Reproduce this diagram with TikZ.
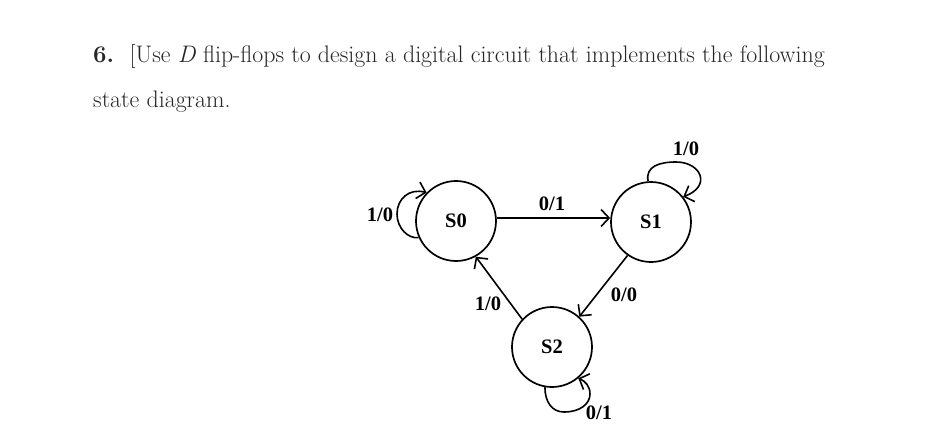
\documentclass[tikz,border=0pt]{standalone}
\usepackage{fontspec}
\newfontfamily\lblfont{Liberation Serif}
\usetikzlibrary{arrows.meta}
\begin{document}
\begin{tikzpicture}[x=1pt,y=-1pt,
  state/.style={draw,circle,line width=1.7pt,minimum size=80pt,inner sep=0pt,font=\lblfont\bfseries\fontsize{20.5}{20.5}\selectfont},
  lbl/.style={font=\lblfont\bfseries\fontsize{20.5}{20.5}\selectfont,inner sep=0pt},
  edge/.style={line width=1.6pt,-{Straight Barb[length=8pt,width=17pt,line width=1.6pt]}},
  body/.style={anchor=base west,inner sep=0pt,text=black!85,font=\fontsize{23.9}{28}\selectfont}]
\useasboundingbox (0,0) rectangle (943,447);
\node[body] (l1) at (93,62) {\textbf{6.}\hspace{15.6pt}[Use \textit{D} flip-flops to design a digital circuit that implements the following};
\node[body] (l2) at (93,107) {state diagram.};
\node[state] (s0) at (456,221) {S0};
\node[state] (s1) at (651,222) {S1};
\node[state] (s2) at (552,347) {S2};
\draw[edge] (s0.east |- 0,218) -- (s1.west |- 0,218);
\draw[edge] (s1.235) -- (s2.48);
\draw[edge] (s2.137) -- (s0.299);
\draw[edge] (s0.204) .. controls (408,239) and (397,228) .. (397,214)
  .. controls (397,199) and (409,188) .. (s0.136);
\draw[edge] (s1.94) .. controls (645,166) and (660,162) .. (676,162)
  .. controls (701,162) and (712,186) .. (s1.38);
\draw[edge] (s2.260) .. controls (545,402) and (552,412) .. (564,412)
  .. controls (580,412) and (590,404) .. (590,394)
  .. controls (590,386) and (585,381) .. (s2.310);
\node[lbl] (a) at (380,215) {1/0};
\node[lbl] (b) at (552,204) {0/1};
\node[lbl] (c) at (686,149) {1/0};
\node[lbl] (d) at (488,304) {1/0};
\node[lbl] (e) at (624,295) {0/0};
\node[lbl] (f) at (599,413) {0/1};
\end{tikzpicture}
\end{document}
